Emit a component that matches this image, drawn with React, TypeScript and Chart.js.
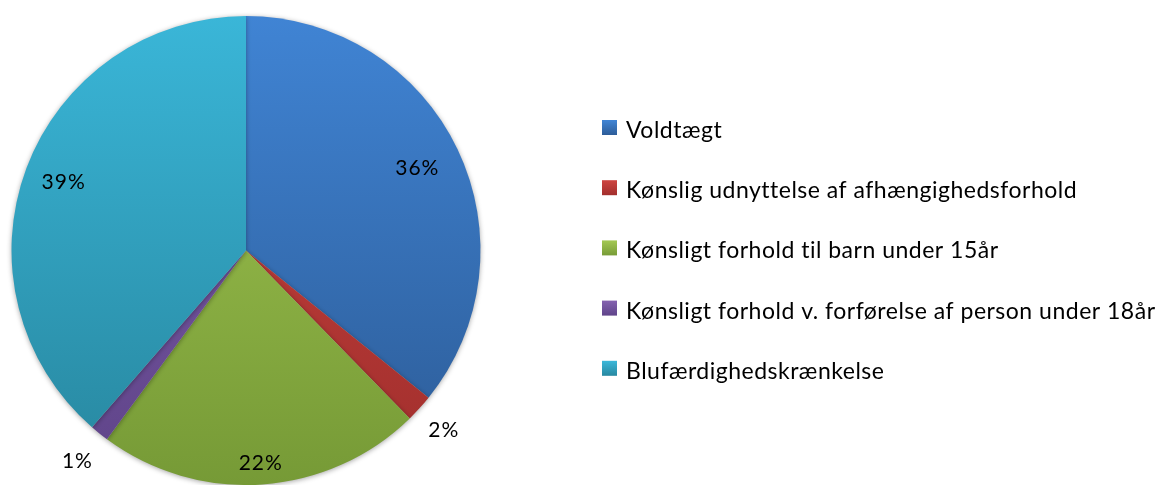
import React, { useEffect, useRef } from "react";
import { Chart, registerables } from "chart.js";

Chart.register(...registerables);

const categories = [
  "Voldtægt",
  "Kønslig udnyttelse af afhængighedsforhold",
  "Kønsligt forhold til barn under 15år",
  "Kønsligt forhold v. forførelse af person under 18år",
  "Blufærdighedskrænkelse",
];
const values = [35.8, 1.9, 22.4, 1.3, 38.6];

const topColors = ["#4084D4", "#CC4440", "#A2C752", "#8361AE", "#3AB6D8"];
const bottomColors = ["#2C5B96", "#A02E2C", "#769A36", "#5E4388", "#27869E"];
const labelRadius = [0.81, 1.14, 0.91, 1.15, 0.83];

const FONT = "Lato, 'Open Sans', sans-serif";

const labelPlugin = {
  id: "pieLabels",
  afterDatasetsDraw(chart: any) {
    const ctx = chart.ctx;
    const meta = chart.getDatasetMeta(0);
    const total = values.reduce((a, b) => a + b, 0);
    ctx.save();
    ctx.font = `21px ${FONT}`;
    (ctx as any).letterSpacing = "1px";
    ctx.fillStyle = "#000";
    ctx.textAlign = "center";
    ctx.textBaseline = "middle";
    meta.data.forEach((arc: any, i: number) => {
      const { x, y, startAngle, endAngle, outerRadius } = arc.getProps(
        ["x", "y", "startAngle", "endAngle", "outerRadius"],
        true
      );
      const mid = (startAngle + endAngle) / 2;
      const r = outerRadius * labelRadius[i];
      const pct = Math.round((values[i] / total) * 100) + "%";
      ctx.fillText(pct, x + Math.cos(mid) * r, y + Math.sin(mid) * r);
    });
    ctx.restore();
  },
};

const legendPlugin = {
  id: "customLegend",
  afterDraw(chart: any) {
    const ctx = chart.ctx;
    ctx.save();
    ctx.font = `23px ${FONT}`;
    (ctx as any).letterSpacing = "0.5px";
    ctx.textBaseline = "middle";
    ctx.textAlign = "left";
    categories.forEach((c, i) => {
      const cy = 130.5 + i * 60.2;
      const g = ctx.createLinearGradient(0, cy - 10, 0, cy + 5);
      g.addColorStop(0, topColors[i]);
      g.addColorStop(1, bottomColors[i]);
      ctx.fillStyle = g;
      ctx.fillRect(602, cy - 10.5, 15, 15);
      ctx.fillStyle = "#000";
      ctx.fillText(c, 626, cy);
    });
    ctx.restore();
  },
};

const shadowPlugin = {
  id: "pieShadow",
  beforeDatasetsDraw(chart: any) {
    const ctx = chart.ctx;
    ctx.save();
    ctx.shadowColor = "rgba(0,0,0,0.35)";
    ctx.shadowBlur = 5;
    ctx.shadowOffsetY = 1;
  },
  afterDatasetsDraw(chart: any) {
    chart.ctx.restore();
  },
};

export default function App() {
  const ref = useRef<HTMLCanvasElement | null>(null);
  useEffect(() => {
    if (!ref.current) return;
    const chart = new Chart(ref.current, {
      type: "pie",
      data: {
        labels: categories,
        datasets: [
          {
            data: values,
            borderWidth: 0,
            backgroundColor: (c: any) => {
              const ch = c.chart;
              const area = ch.chartArea;
              if (!area) return topColors[c.dataIndex];
              const g = ch.ctx.createLinearGradient(0, area.top, 0, area.bottom);
              g.addColorStop(0, topColors[c.dataIndex]);
              g.addColorStop(1, bottomColors[c.dataIndex]);
              return g;
            },
          },
        ],
      },
      options: {
        responsive: false,
        animation: false,
        layout: { padding: { left: 0, right: 676, top: 16, bottom: 0 } },
        plugins: {
          legend: { display: false },
          tooltip: { enabled: false },
        },
      },
      plugins: [shadowPlugin, labelPlugin, legendPlugin],
    });
    return () => chart.destroy();
  }, []);
  return (
    <div style={{ position: "absolute", left: 0, top: 0, width: 1168, height: 485, background: "#fff" }}>
      <canvas ref={ref} width={1168} height={485} />
    </div>
  );
}
